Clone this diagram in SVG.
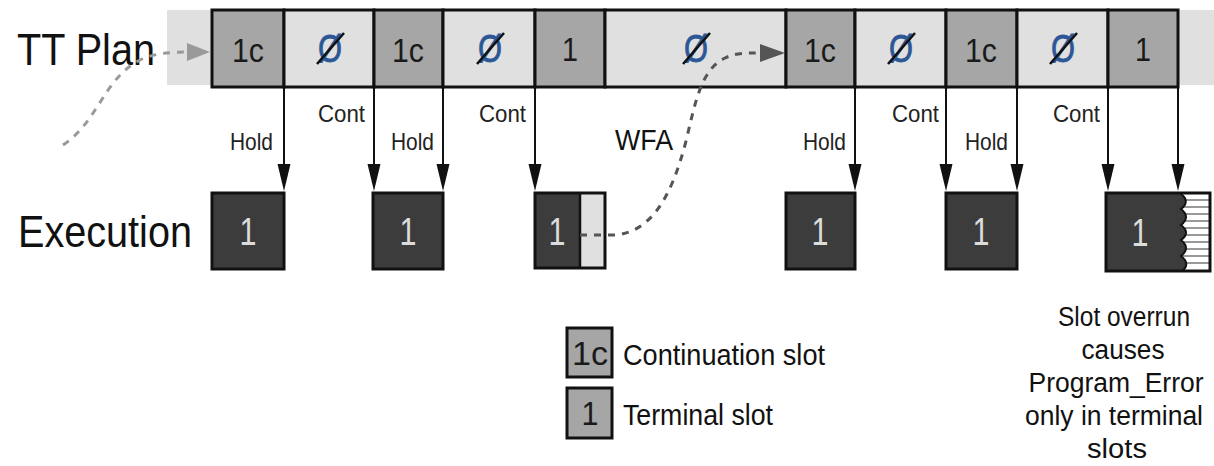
<svg xmlns="http://www.w3.org/2000/svg" width="1214" height="466" viewBox="0 0 1214 466">
<style>
  text { font-family: "Liberation Sans", Arial, sans-serif; fill: #111; }
  .big { font-size: 44px; }
  .lbl { font-size: 24px; text-anchor: end; fill: #222; }
  .slotd { fill: #a6a6a6; stroke: #111; stroke-width: 3; }
  .slotl { fill: #e0e0e0; stroke: #111; stroke-width: 3; }
  .num { font-size: 33px; text-anchor: middle; fill: #1a1a1a; }
  .nul { font-size: 38px; text-anchor: middle; fill: #2b5797; stroke: #2b5797; stroke-width: 0.8; }
  .slash { stroke: #111; stroke-width: 2.5; }
  .exec { fill: #3c3c3c; stroke: #111; stroke-width: 3; }
  .en { font-size: 38px; text-anchor: middle; fill: #dcdcdc; }
  .arr { stroke: #111; stroke-width: 2; fill: none; }
  .head { fill: #111; }
  .note { font-size: 27px; text-anchor: middle; fill: #111; }
  .leg { font-size: 30px; fill: #111; }
</style>

<rect id="plan-strip" x="167" y="10" width="1047" height="75" fill="#e0e0e0"/>

<g id="title-plan"><text class="big" x="17" y="65" textLength="138" lengthAdjust="spacingAndGlyphs">TT Plan</text></g>
<g id="title-exec"><text class="big" x="18" y="247" textLength="174" lengthAdjust="spacingAndGlyphs">Execution</text></g>

<g id="slot1"><rect class="slotd" x="212" y="10" width="72" height="77"/><text class="num" x="248" y="62" textLength="32" lengthAdjust="spacingAndGlyphs">1c</text></g>
<g id="slot2"><rect class="slotl" x="284" y="10" width="90" height="77"/><text class="nul" x="330" y="62" textLength="24" lengthAdjust="spacingAndGlyphs">Ø</text><line class="slash" x1="317" y1="64" x2="344" y2="33"/></g>
<g id="slot3"><rect class="slotd" x="374" y="10" width="69" height="77"/><text class="num" x="408" y="62" textLength="32" lengthAdjust="spacingAndGlyphs">1c</text></g>
<g id="slot4"><rect class="slotl" x="443" y="10" width="92" height="77"/><text class="nul" x="490" y="62" textLength="24" lengthAdjust="spacingAndGlyphs">Ø</text><line class="slash" x1="477" y1="64" x2="504" y2="33"/></g>
<g id="slot5"><rect class="slotd" x="535" y="10" width="70" height="77"/><text class="num" x="570" y="61" textLength="16" lengthAdjust="spacingAndGlyphs">1</text></g>
<g id="slot6"><rect class="slotl" x="605" y="10" width="181" height="77"/><text class="nul" x="696" y="62" textLength="24" lengthAdjust="spacingAndGlyphs">Ø</text><line class="slash" x1="683" y1="64" x2="710" y2="33"/></g>
<g id="slot7"><rect class="slotd" x="786" y="10" width="69" height="77"/><text class="num" x="820" y="62" textLength="32" lengthAdjust="spacingAndGlyphs">1c</text></g>
<g id="slot8"><rect class="slotl" x="855" y="10" width="91" height="77"/><text class="nul" x="901" y="62" textLength="24" lengthAdjust="spacingAndGlyphs">Ø</text><line class="slash" x1="888" y1="64" x2="915" y2="33"/></g>
<g id="slot9"><rect class="slotd" x="946" y="10" width="71" height="77"/><text class="num" x="981" y="62" textLength="32" lengthAdjust="spacingAndGlyphs">1c</text></g>
<g id="slot10"><rect class="slotl" x="1017" y="10" width="91" height="77"/><text class="nul" x="1063" y="62" textLength="24" lengthAdjust="spacingAndGlyphs">Ø</text><line class="slash" x1="1050" y1="64" x2="1077" y2="33"/></g>
<g id="slot11"><rect class="slotd" x="1108" y="10" width="70" height="77"/><text class="num" x="1143" y="61" textLength="16" lengthAdjust="spacingAndGlyphs">1</text></g>

<g id="exec1"><rect class="exec" x="212" y="193" width="72" height="76"/><text class="en" x="248" y="245" textLength="17" lengthAdjust="spacingAndGlyphs">1</text></g>
<g id="exec2"><rect class="exec" x="373" y="193" width="70" height="76"/><text class="en" x="408" y="245" textLength="17" lengthAdjust="spacingAndGlyphs">1</text></g>
<g id="exec3"><rect x="580" y="193" width="25" height="75" fill="#e0e0e0"/><rect x="535" y="193" width="45" height="75" fill="#3c3c3c"/><rect x="535" y="193" width="70" height="75" fill="none" stroke="#111" stroke-width="3"/><line x1="580" y1="193" x2="580" y2="268" stroke="#111" stroke-width="2.5"/><text class="en" x="557" y="245" textLength="17" lengthAdjust="spacingAndGlyphs">1</text></g>
<g id="exec4"><rect class="exec" x="786" y="193" width="69" height="76"/><text class="en" x="820" y="245" textLength="17" lengthAdjust="spacingAndGlyphs">1</text></g>
<g id="exec5"><rect class="exec" x="946" y="193" width="71" height="76"/><text class="en" x="981" y="245" textLength="17" lengthAdjust="spacingAndGlyphs">1</text></g>
<g id="exec6">
  <rect x="1106" y="193" width="104" height="78" fill="#fff"/>
  <g stroke="#555" stroke-width="1.2">
    <line x1="1180" y1="200" x2="1210" y2="200"/><line x1="1180" y1="207" x2="1210" y2="207"/>
    <line x1="1180" y1="214" x2="1210" y2="214"/><line x1="1180" y1="221" x2="1210" y2="221"/>
    <line x1="1180" y1="228" x2="1210" y2="228"/><line x1="1180" y1="235" x2="1210" y2="235"/>
    <line x1="1180" y1="242" x2="1210" y2="242"/><line x1="1180" y1="249" x2="1210" y2="249"/>
    <line x1="1180" y1="256" x2="1210" y2="256"/><line x1="1180" y1="263" x2="1210" y2="263"/>
  </g>
  <path d="M1106,193 L1180,193 Q1191,201 1181,209 Q1191,217 1181,225 Q1191,233 1181,240 Q1191,248 1181,256 Q1191,264 1182,271 L1106,271 Z" fill="#3c3c3c"/>
  <path d="M1180,193 Q1191,201 1181,209 Q1191,217 1181,225 Q1191,233 1181,240 Q1191,248 1181,256 Q1191,264 1182,271" fill="none" stroke="#111" stroke-width="2"/>
  <rect x="1106" y="193" width="104" height="78" fill="none" stroke="#111" stroke-width="3"/>
  <text class="en" x="1140" y="246" textLength="17" lengthAdjust="spacingAndGlyphs">1</text>
</g>

<g id="connectors">
  <g class="arr">
    <line x1="284" y1="87" x2="284" y2="168"/>
    <line x1="374" y1="87" x2="374" y2="168"/>
    <line x1="443" y1="87" x2="443" y2="168"/>
    <line x1="535" y1="87" x2="535" y2="168"/>
    <line x1="855" y1="87" x2="855" y2="168"/>
    <line x1="946" y1="87" x2="946" y2="168"/>
    <line x1="1017" y1="87" x2="1017" y2="168"/>
    <line x1="1108" y1="87" x2="1108" y2="168"/>
    <line x1="1178" y1="87" x2="1178" y2="168"/>
  </g>
  <g class="head">
    <polygon points="277.5,164 290.5,164 284,191"/>
    <polygon points="367.5,164 380.5,164 374,191"/>
    <polygon points="436.5,164 449.5,164 443,191"/>
    <polygon points="528.5,164 541.5,164 535,191"/>
    <polygon points="848.5,164 861.5,164 855,191"/>
    <polygon points="939.5,164 952.5,164 946,191"/>
    <polygon points="1010.5,164 1023.5,164 1017,191"/>
    <polygon points="1101.5,164 1114.5,164 1108,191"/>
    <polygon points="1171.5,164 1184.5,164 1178,191"/>
  </g>
  <text class="lbl" x="273" y="150" textLength="43" lengthAdjust="spacingAndGlyphs">Hold</text>
  <text class="lbl" x="365" y="122" textLength="47" lengthAdjust="spacingAndGlyphs">Cont</text>
  <text class="lbl" x="434" y="150" textLength="43" lengthAdjust="spacingAndGlyphs">Hold</text>
  <text class="lbl" x="526" y="122" textLength="47" lengthAdjust="spacingAndGlyphs">Cont</text>
  <text x="615" y="150" font-size="30" textLength="58" lengthAdjust="spacingAndGlyphs">WFA</text>
  <text class="lbl" x="846" y="150" textLength="43" lengthAdjust="spacingAndGlyphs">Hold</text>
  <text class="lbl" x="939" y="122" textLength="47" lengthAdjust="spacingAndGlyphs">Cont</text>
  <text class="lbl" x="1008" y="150" textLength="43" lengthAdjust="spacingAndGlyphs">Hold</text>
  <text class="lbl" x="1100" y="122" textLength="47" lengthAdjust="spacingAndGlyphs">Cont</text>

  <path d="M63,145 C98,122 104,78 140,60 C155,53 170,52 190,52" fill="none" stroke="#9a9a9a" stroke-width="3" stroke-dasharray="7,7"/>
  <polygon points="187,43 210,52 187,61" fill="#9a9a9a"/>
  <path d="M580,235 L615,235 C650,232 670,200 685,145 C695,105 700,70 725,58 C735,53 745,53 762,53" fill="none" stroke="#555" stroke-width="3" stroke-dasharray="7,7"/>
  <polygon points="760,44 785,53 760,62" fill="#555"/>
</g>

<g id="legend-cont"><rect class="slotd" x="567" y="328" width="45" height="49"/><text class="num" x="590" y="365" font-size="32" textLength="36" lengthAdjust="spacingAndGlyphs">1c</text><text class="leg" x="623" y="365" textLength="202" lengthAdjust="spacingAndGlyphs">Continuation slot</text></g>
<g id="legend-term"><rect class="slotd" x="567" y="388" width="45" height="50"/><text class="num" x="590" y="425" font-size="32" textLength="17" lengthAdjust="spacingAndGlyphs">1</text><text class="leg" x="623" y="425" textLength="150" lengthAdjust="spacingAndGlyphs">Terminal slot</text></g>

<g id="note">
  <text class="note" x="1124" y="326" textLength="132" lengthAdjust="spacingAndGlyphs">Slot overrun</text>
  <text class="note" x="1123" y="359" textLength="83" lengthAdjust="spacingAndGlyphs">causes</text>
  <text class="note" x="1116" y="392" textLength="175" lengthAdjust="spacingAndGlyphs">Program_Error</text>
  <text class="note" x="1114" y="425" textLength="178" lengthAdjust="spacingAndGlyphs">only in terminal</text>
  <text class="note" x="1117" y="458" textLength="60" lengthAdjust="spacingAndGlyphs">slots</text>
</g>
</svg>
